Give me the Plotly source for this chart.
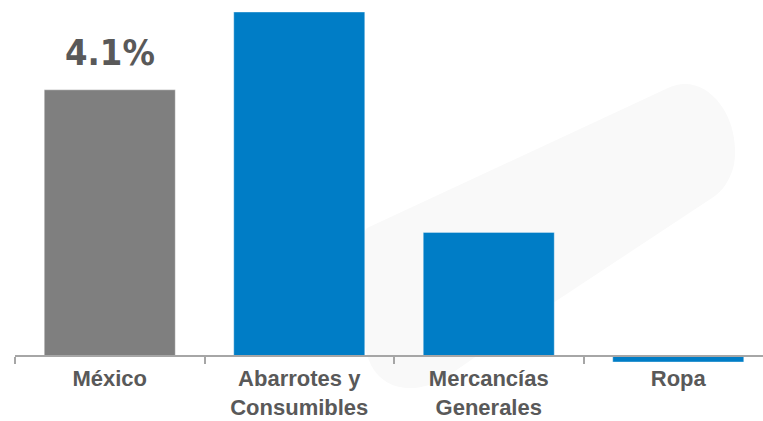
import plotly.graph_objects as go

categories = ["México", "Abarrotes y<br>Consumibles", "Mercancías<br>Generales", "Ropa"]
values = [4.1, 5.3, 1.9, -0.1]
bar_colors = ["#7F7F7F", "#007DC6", "#007DC6", "#007DC6"]
label_index = 0  # only México carries a value label

W, H = 763, 421
L, R, T, B = 15, 0, 0, 40
plot_w = W - L - R
plot_h = H - T - B
zero_px = 355.5
px_per_unit = 64.8
cat_w = 189.5

y_top = (zero_px - T) / px_per_unit
y_bot = -(T + plot_h - zero_px) / px_per_unit
x_max = -0.5 + plot_w / cat_w


def px(x, y):
    return ((x - L) / plot_w, (T + plot_h - y) / plot_h)


# faint watermark band in the background
pts = [
    ("M", [(367, 228)]),
    ("L", [(668, 88)]),
    ("C", [(705, 70), (742, 115), (734, 165)]),
    ("Q", [(728, 188), (712, 198)]),
    ("L", [(553, 303)]),
    ("L", [(445, 378)]),
    ("C", [(410, 398), (368, 390), (364, 338)]),
    ("L", [(364, 240)]),
    ("Q", [(364, 230), (367, 228)]),
]
path = ""
for cmd, plist in pts:
    path += cmd + " " + " ".join("%.4f,%.4f" % px(x, y) for x, y in plist) + " "
path += "Z"

fig = go.Figure()
fig.add_trace(go.Bar(
    x=categories,
    y=values,
    marker=dict(color=bar_colors, line=dict(color="rgba(255,255,255,0.35)", width=1)),
    width=131 / cat_w,
    hoverinfo="skip",
))

fig.add_annotation(
    x=categories[label_index], y=values[label_index],
    xref="x", yref="y",
    text=f"{values[label_index]:.1f}%",
    showarrow=False, yanchor="bottom", yshift=15,
    font=dict(family="DejaVu Sans Condensed, Liberation Sans Narrow, sans-serif",
              size=36, color="#595959", weight="bold"),
)

fig.add_shape(type="path", path=path, xref="paper", yref="paper",
              fillcolor="#F9F9F9", line=dict(width=0), layer="below")

fig.update_layout(
    width=W, height=H,
    margin=dict(l=L, r=R, t=T, b=B, pad=0, autoexpand=False),
    paper_bgcolor="white", plot_bgcolor="rgba(0,0,0,0)",
    showlegend=False,
    xaxis=dict(
        range=[-0.5, x_max],
        automargin=False,
        anchor="free", position=(T + plot_h - zero_px) / plot_h,
        showline=True, linecolor="#A6A6A6", linewidth=2,
        tickson="boundaries", ticks="outside", ticklen=7, tickwidth=1.5, tickcolor="#A6A6A6",
        showgrid=False, zeroline=False,
        tickfont=dict(family="Liberation Sans, Arial, sans-serif", size=22, color="#595959", weight="bold"),
        ticklabelstandoff=3,
        fixedrange=True,
    ),
    yaxis=dict(
        range=[y_bot, y_top], visible=False, showgrid=False, zeroline=False,
        fixedrange=True, automargin=False,
    ),
)

fig.write_html(
    "out.html",
    config={"displayModeBar": False},
    post_script="document.body.style.margin='0';document.body.style.overflow='hidden';",
)
